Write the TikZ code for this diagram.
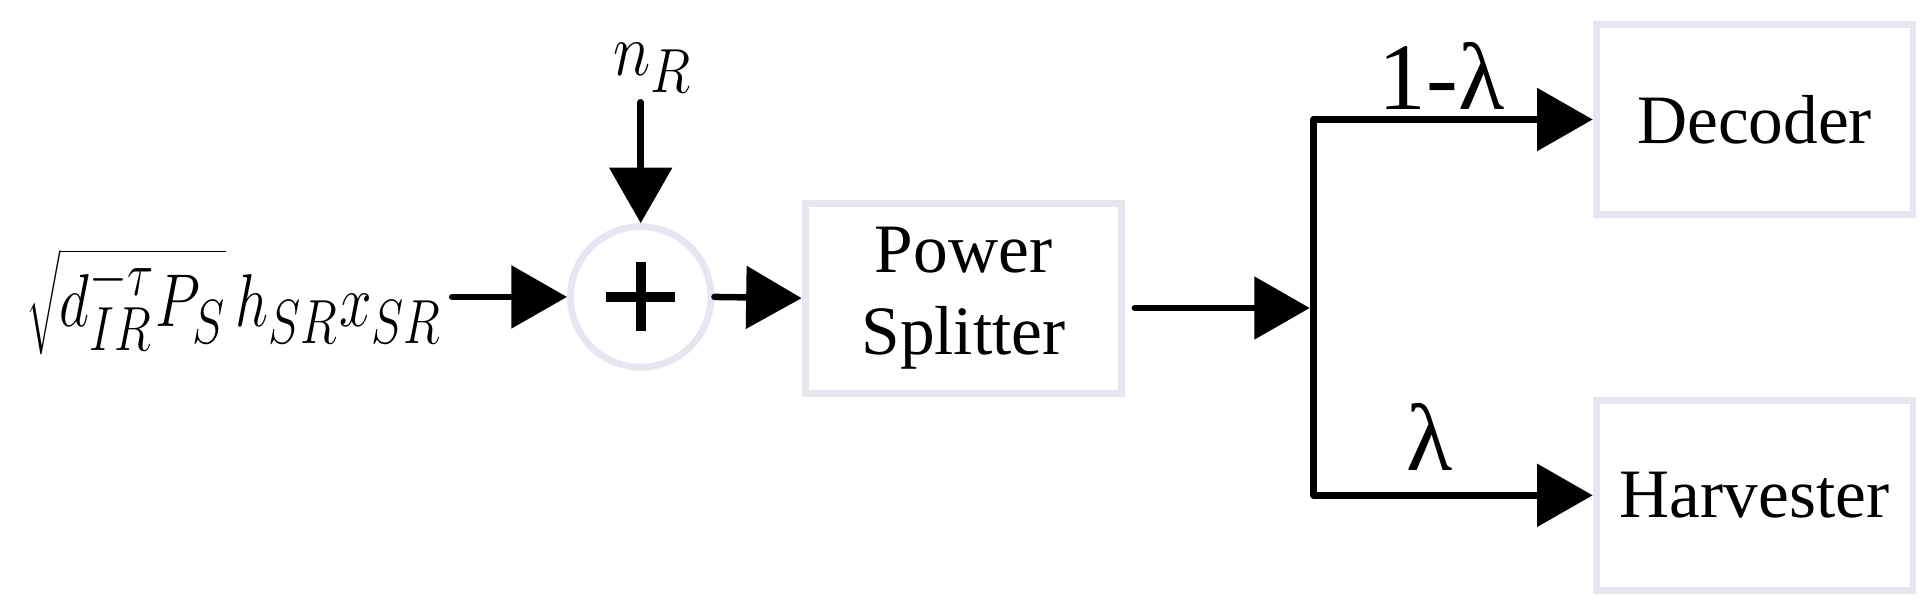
\documentclass[tikz,border=0pt]{standalone}
\usepackage{fontspec}
\setmainfont{Liberation Serif}
\usetikzlibrary{arrows.meta}
\definecolor{bx}{HTML}{E4E6F4}
\begin{document}
\begin{tikzpicture}[x=0.01cm,y=-0.01cm,
 box/.style={draw=bx,line width=1.6pt,minimum width=2.57cm,minimum height=1.54cm,inner sep=0pt,font=\fontsize{16}{19}\selectfont,align=center},
 wire/.style={line width=1.5pt,line cap=round},
 arr/.style={wire,-{Triangle[length=0.45cm,width=0.5cm]}},
 lbl/.style={inner sep=0pt,font=\fontsize{22}{24}\selectfont}]
\useasboundingbox (0,0) rectangle (1568,495);
\node[draw=bx,line width=1.6pt,circle,minimum size=1.14cm,inner sep=0pt] (sum) at (520,241) {};
\fill (492,237) rectangle (548,245);
\fill (516,213) rectangle (524,269);
\node[box] (ps) at (782,242) {Power\\Splitter};
\node[box] (dec) at (1424,97) {Decoder};
\node[box] (har) at (1424,402) {Harvester};
\node[inner sep=0pt] (in) at (190,245) {\scalebox{0.78}[1]{\fontsize{19}{21}\selectfont$\sqrt{d_{IR}^{-\tau}P_S}\,h_{SR}x_{SR}$}};
\node[inner sep=0pt] (nr) at (530,55) {\scalebox{0.85}[1]{\fontsize{19}{21}\selectfont$n_R$}};
\node[lbl] (l1) at (1170,62) {1-λ};
\node[lbl] (l2) at (1160,355) {λ};
\coordinate (a0) at (367,241);
\coordinate (n0) at (520,83);
\coordinate (b0) at (921,250);
\coordinate (j) at (1063,250);
\coordinate (jt) at (1066,97);
\coordinate (jb) at (1066,402);
\draw[arr] (a0) -- (sum.west);
\draw[arr] (n0) -- (sum.north);
\draw[arr] (sum.east) -- (ps.west);
\draw[arr] (b0) -- (j);
\draw[wire] (jt) -- (jb);
\draw[arr] (jt) -- (dec.west);
\draw[arr] (jb) -- (har.west);
\end{tikzpicture}
\end{document}
